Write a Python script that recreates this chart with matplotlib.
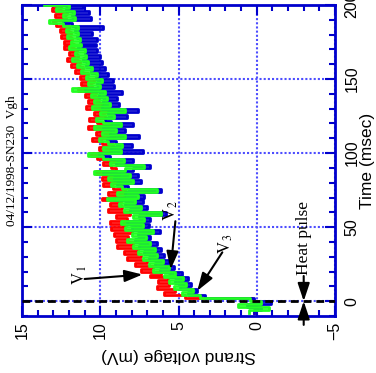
import matplotlib
matplotlib.use("Agg")
import matplotlib.pyplot as plt
from matplotlib.ticker import MultipleLocator
import numpy as np

# sample times (msec), 2 ms apart
time_ms = np.arange(-8, 201, 2)

# strand voltages (mV), one row per 10 ms
v1_red = [
    0.2, 0.0, 0.5, 0.1, 0.3,
    4.6, 5.9, 5.2, 6.4, 5.6,
    6.3, 5.7, 6.8, 6.1, 7.4,
    6.6, 7.8, 7.0, 8.3, 7.4,
    8.5, 7.6, 8.9, 7.9, 9.0,
    8.2, 9.1, 8.0, 9.3, 8.4,
    9.4, 8.3, 9.0, 8.1, 9.5,
    8.6, 9.4, 8.7, 9.9, 8.5,
    9.5, 8.4, 9.2, 9.8, 8.7,
    9.9, 8.8, 10.3, 9.0, 9.3,
    9.8, 9.1, 10.2, 10.6, 9.3,
    10.1, 9.2, 9.9, 10.5, 9.1,
    10.3, 9.5, 10.8, 9.3, 10.2,
    10.7, 9.7, 10.4, 9.5, 10.9,
    9.9, 10.8, 10.1, 11.0, 10.3,
    11.4, 10.5, 11.2, 10.4, 11.3,
    10.8, 11.6, 11.1, 11.9, 11.3,
    12.1, 11.4, 12.0, 11.5, 12.3,
    11.7, 12.3, 11.8, 12.5, 11.9,
    12.6, 12.0, 12.8, 13.0, 12.2,
    12.9, 12.1, 13.1, 12.5, 13.2,
]
v2_blue = [
    0.2, -0.3, 0.6, -0.9, 0.2,
    3.3, 4.4, 3.8, 4.9, 4.2,
    5.2, 4.4, 5.6, 4.8, 6.2,
    5.3, 6.5, 5.6, 6.9, 5.9,
    7.2, 6.1, 7.5, 6.4, 7.8,
    6.8, 7.6, 6.2, 8.0, 6.9,
    8.3, 6.8, 7.5, 5.8, 8.1,
    7.0, 8.4, 7.3, 9.1, 7.2,
    8.4, 6.1, 8.2, 8.9, 7.4,
    9.1, 7.6, 9.8, 7.9, 6.8,
    9.0, 7.9, 9.4, 10.1, 7.3,
    9.3, 8.0, 9.0, 9.6, 7.5,
    9.4, 8.4, 9.8, 7.9, 9.3,
    9.7, 8.3, 9.5, 7.6, 9.9,
    8.8, 9.8, 8.9, 10.1, 8.6,
    11.0, 9.1, 10.2, 9.2, 10.3,
    9.5, 10.6, 9.7, 10.9, 9.9,
    11.1, 10.0, 11.0, 10.2, 11.4,
    10.3, 11.3, 10.2, 11.5, 10.5,
    11.6, 9.8, 11.8, 12.4, 10.6,
    11.8, 10.7, 12.2, 11.1, 12.9,
]
v3_green = [
    0.5, -0.8, 1.2, -0.3, 0.4,
    3.6, 4.8, 4.1, 5.3, 4.5,
    5.6, 4.7, 5.9, 5.2, 6.6,
    5.6, 6.9, 6.0, 7.3, 6.4,
    7.6, 6.5, 7.9, 6.8, 8.3,
    7.1, 8.0, 6.6, 8.4, 7.3,
    8.7, 7.2, 7.9, 6.1, 8.5,
    7.4, 8.8, 7.8, 9.6, 7.6,
    8.9, 6.4, 8.6, 9.3, 7.9,
    9.5, 8.1, 10.4, 8.4, 7.2,
    9.4, 8.5, 9.8, 10.8, 8.7,
    9.8, 8.6, 9.5, 10.1, 8.4,
    9.9, 9.0, 10.4, 8.7, 9.8,
    10.3, 9.1, 10.0, 8.4, 10.5,
    9.4, 10.4, 9.6, 10.6, 9.7,
    11.8, 10.0, 10.8, 9.9, 10.9,
    10.2, 11.2, 10.5, 11.5, 10.8,
    11.8, 10.9, 11.6, 11.0, 12.0,
    11.2, 11.9, 11.3, 12.1, 11.4,
    12.2, 11.4, 12.4, 13.3, 11.6,
    12.4, 11.7, 12.8, 12.0, 13.6,
]

volt_ticks = [15, 10, 5, 0, -5]
time_ticks = [0, 50, 100, 150, 200]

frame_blue = "#0000cc"
sans = "Liberation Sans"
serif = "Liberation Serif"
plt.rcParams["mathtext.fontset"] = "stix"

fig = plt.figure(figsize=(3.76, 3.73), dpi=100)
ax = fig.add_axes([22/376, 1-316/373, (335-22)/376, (316-5)/373])

# rotated chart: voltage runs along x (reversed), time up along y;
ax.plot(v1_red, time_ms, color="#ff0000", lw=2.0, drawstyle="steps-pre", zorder=3)
ax.plot(v2_blue, time_ms, color="#0000cc", lw=2.0, drawstyle="steps-pre", zorder=3)
ax.plot(v3_green, time_ms, color="#22ff22", lw=2.0, drawstyle="steps-pre", zorder=4)

ax.axhline(0, color="k", ls=(0, (2.8, 1.8)), lw=2, zorder=5)

ax.set_xlim(15, -5)
ax.set_ylim(-10, 200)
ax.set_xticks(volt_ticks)
ax.set_yticks(time_ticks)
ax.xaxis.set_minor_locator(MultipleLocator(1))
ax.yaxis.set_minor_locator(MultipleLocator(10))
ax.grid(which="major", color="#4d4dff", ls=(0, (1, 1)), lw=1.5, zorder=1)

for s in ax.spines.values():
    s.set_color(frame_blue)
    s.set_linewidth(2)
ax.tick_params(which="both", direction="in", top=True, bottom=True, left=True, right=True,
               labelleft=False, labelright=True, color=frame_blue, width=1.5)
ax.tick_params(which="major", length=7)
ax.tick_params(which="minor", length=4)
ax.tick_params(axis="x", pad=4, labelsize=11.5, labelrotation=90)
ax.tick_params(axis="y", pad=7, labelsize=11.5, labelrotation=90)
for lab in ax.get_xticklabels() + ax.get_yticklabels():
    lab.set_fontfamily(sans)
for lab in ax.get_yticklabels():
    lab.set_va("center")

ax.set_xlabel("Strand voltage (mV)", family=sans, fontsize=12.5, rotation=180, labelpad=6)
ax.yaxis.set_label_position("right")
ax.set_ylabel("Time (msec)", family=sans, fontsize=12.5, rotation=90, labelpad=0)

# annotations
arrow = dict(arrowstyle="-|>,head_length=0.9,head_width=0.3", color="k", lw=1.5,
             mutation_scale=12, shrinkA=0, shrinkB=0)
ax.annotate("", xy=(7.3, 18), xytext=(11.0, 15), arrowprops=arrow, zorder=6)
ax.annotate("", xy=(5.5, 21.5), xytext=(5.2, 54), arrowprops=arrow, zorder=6)
ax.annotate("", xy=(3.8, 7), xytext=(2.2, 33), arrowprops=arrow, zorder=6)
ax.annotate("", xy=(-3, 0), xytext=(-3, 17), arrowprops=arrow, zorder=6)
ax.annotate("", xy=(-3, 0), xytext=(-3, -16), arrowprops=arrow, zorder=6,
            annotation_clip=False)

ax.text(11.3, 18, r"$\mathrm{V}_{\,1}$", rotation=90, fontsize=12, ha="center", va="center")
ax.text(5.5, 61, r"$\mathrm{V}_{\,2}$", rotation=90, fontsize=12, ha="center", va="center")
ax.text(2.0, 39, r"$\mathrm{V}_{\,3}$", rotation=90, fontsize=12, ha="center", va="center")
ax.text(-3, 17.5, "Heat pulse", rotation=90, family=serif, fontsize=12.5,
        ha="center", va="bottom")

fig.text(12/376, 1-161/373, "04/12/1998-SN230  Vgh", rotation=90, family=serif,
         fontsize=9.5, ha="center", va="center")

fig.savefig("out.png", dpi=100)
